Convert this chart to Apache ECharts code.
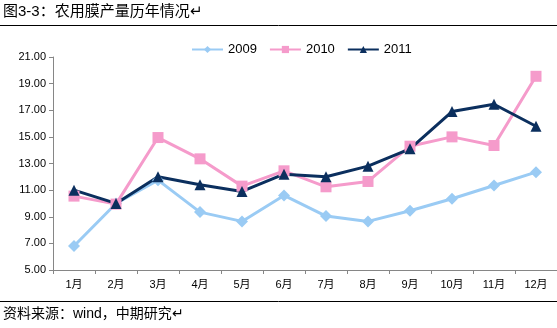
<!DOCTYPE html>
<html><head><meta charset="utf-8">
<script src="https://cdn.jsdelivr.net/npm/echarts@6/dist/echarts.min.js"></script>
<style>html,body{margin:0;padding:0;background:#fff}#c{width:557px;height:328px}</style>
</head><body><div id="c"></div>
<script>
const categories = ['1月','2月','3月','4月','5月','6月','7月','8月','9月','10月','11月','12月'];
const s2009 = [6.8, 10.0, 11.75, 9.35, 8.65, 10.6, 9.05, 8.65, 9.45, 10.35, 11.35, 12.35];
const s2010 = [10.55, 9.95, 14.95, 13.35, 11.3, 12.45, 11.25, 11.65, 14.3, 15.0, 14.35, 19.55];
const s2011 = [11.0, 10.0, 12.0, 11.4, 10.9, 12.2, 12.0, 12.8, 14.1, 16.9, 17.45, 15.8];
const yTicks = {min: 5, max: 21, interval: 2};
const titleText = '图3-3：农用膜产量历年情况↵';
const sourceText = '资料来源：wind，中期研究↵';

const chart = echarts.init(document.getElementById('c'));
const font = '"Liberation Sans","Noto Sans CJK SC",sans-serif';
chart.setOption({
  animation: false,
  backgroundColor: '#fff',
  textStyle: {fontFamily: font},
  legend: {
    top: 38, left: 186, itemGap: 12, itemWidth: 31, itemHeight: 9,
    textStyle: {fontSize: 13, color: '#000', fontFamily: font},
    data: ['2009','2010','2011']
  },
  grid: {left: 53, right: -3, top: 57, bottom: 58},
  xAxis: {
    type: 'category', data: categories, boundaryGap: true,
    axisLine: {lineStyle: {color: '#868686', width: 1}},
    axisTick: {show: true, length: 4, lineStyle: {color: '#868686'}},
    axisLabel: {fontSize: 11, color: '#000', margin: 9, fontFamily: font}
  },
  yAxis: {
    type: 'value', min: yTicks.min, max: yTicks.max, interval: yTicks.interval,
    splitLine: {show: false},
    axisLine: {show: true, lineStyle: {color: '#868686', width: 1}},
    axisTick: {show: true, length: 4, lineStyle: {color: '#868686'}},
    axisLabel: {fontSize: 11, color: '#000', margin: 7, fontFamily: font,
      formatter: v => v.toFixed(2)}
  },
  series: [
    {name: '2009', type: 'line', data: s2009, symbol: 'diamond', symbolSize: 12,
     lineStyle: {width: 3, color: '#9ACBF4'}, itemStyle: {color: '#9ACBF4'}},
    {name: '2010', type: 'line', data: s2010, symbol: 'rect', symbolSize: 11,
     lineStyle: {width: 3, color: '#F59BCB'}, itemStyle: {color: '#F59BCB'}},
    {name: '2011', type: 'line', data: s2011, symbol: 'triangle', symbolSize: 11,
     lineStyle: {width: 3, color: '#0B2F5E'}, itemStyle: {color: '#0B2F5E'}}
  ],
  graphic: [
    {type: 'text', left: 3, top: 4, style: {text: titleText, fontSize: 15, fill: '#000', fontFamily: font}},
    {type: 'line', shape: {x1: 0, y1: 25.5, x2: 557, y2: 25.5}, style: {stroke: '#000', lineWidth: 1}},
    {type: 'line', shape: {x1: 0, y1: 301.5, x2: 557, y2: 301.5}, style: {stroke: '#000', lineWidth: 1}},
    {type: 'text', left: 3, top: 307, style: {text: sourceText, fontSize: 14, fill: '#000', fontFamily: font}}
  ]
});
</script></body></html>
